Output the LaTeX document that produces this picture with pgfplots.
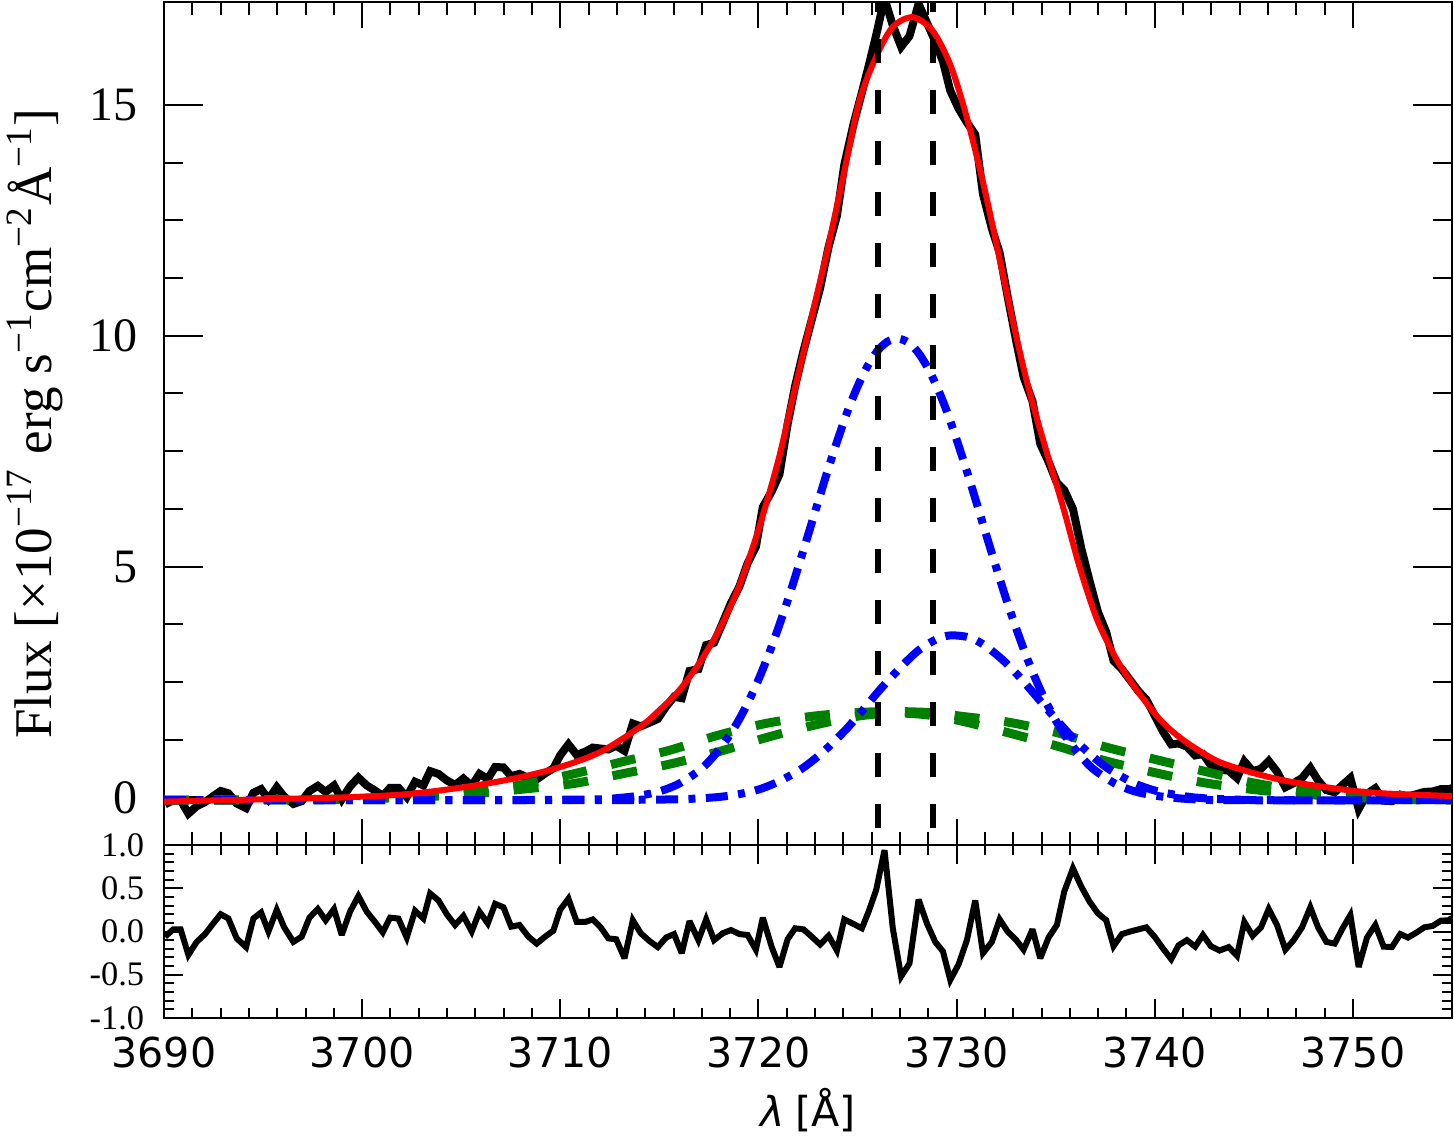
\documentclass[border=0pt]{standalone}
\usepackage{fontspec}
\setmainfont{Liberation Serif}
\newfontfamily\dejavu{DejaVu Sans}
\usepackage{pgfplots}
\pgfplotsset{compat=1.18}
\definecolor{dgreen}{RGB}{0,128,0}
\begin{document}
\begin{tikzpicture}
\pgfplotsset{
  every axis/.append style={scale only axis, width=322pt, xmin=3690, xmax=3755,
    axis line style={line width=0.5pt}, every tick/.style={line width=0.5pt, black}},
}
% ---------------- residual panel ----------------
\begin{axis}[name=bot, at={(0,0)}, anchor=south west, height=43.25pt,
  ymin=-1, ymax=1,
  xtick={3690,3700,3710,3720,3730,3740,3750},
  xticklabels={3690,3700,3710,3720,3730,3740,3750},
  minor x tick num=6,
  ytick={-1,-0.5,0,0.5,1}, yticklabels={-1.0,-0.5,0.0,0.5,1.0},
  minor y tick num=4,
  major tick length=4.75pt, minor tick length=2.5pt,
  xticklabel style={font=\dejavu\fontsize{10.3}{10.3}\selectfont, anchor=north, inner sep=0pt, yshift=-4.5pt},
  yticklabel style={font=\fontsize{8.6}{8.6}\selectfont, anchor=east, inner sep=0pt, xshift=-4.75pt},
  xlabel={{\dejavu\itshape λ} {\dejavu [Å]}},
  xlabel style={font=\fontsize{10.3}{10.3}\selectfont, at={([yshift=-27.2pt]axis description cs:0.5,0)}, anchor=base},
]
\addplot[black, line width=1.5pt, line join=miter, miter limit=3] coordinates {
(3690.05,-0.06) (3690.47,0.025) (3690.84,0.025) (3691.23,-0.27) (3691.65,-0.12) (3692.07,-0.03) (3692.49,0.094) (3692.86,0.20) (3693.25,0.15) (3693.67,-0.08) (3694.14,-0.18) (3694.51,0.15) (3694.90,0.22) (3695.27,0.0) (3695.69,0.25) (3696.06,0.05) (3696.53,-0.12) (3696.95,-0.06) (3697.34,0.16) (3697.76,0.26) (3698.16,0.13) (3698.58,0.26) (3698.97,-0.04) (3699.39,0.23) (3699.81,0.41) (3700.23,0.23) (3700.65,0.11) (3701.04,-0.01) (3701.41,0.16) (3701.83,0.15) (3702.25,-0.07) (3702.67,0.24) (3703.09,0.15) (3703.43,0.44) (3703.85,0.36) (3704.27,0.20) (3704.69,0.075) (3705.11,0.18) (3705.53,0.0) (3705.92,0.23) (3706.34,0.094) (3706.71,0.32) (3707.13,0.28) (3707.52,0.056) (3707.94,0.075) (3708.39,-0.06) (3708.81,-0.14) (3709.23,-0.06) (3709.65,0.01) (3709.99,0.25) (3710.41,0.38) (3710.83,0.11) (3711.25,0.11) (3711.64,0.14) (3712.01,0.056)
(3712.43,-0.08) (3712.82,-0.09) (3713.24,-0.31) (3713.66,0.13) (3714.06,-0.02) (3714.50,-0.11) (3714.92,-0.18) (3715.34,-0.07) (3715.74,-0.03) (3716.13,-0.25) (3716.52,0.12) (3716.97,-0.10) (3717.36,0.14) (3717.76,-0.10) (3718.20,-0.02) (3718.61,0.017) (3719.04,-0.03) (3719.45,-0.04) (3719.87,-0.21) (3720.22,0.16) (3720.67,-0.18) (3721.06,-0.41) (3721.47,-0.09) (3721.85,0.037) (3722.27,0.025) (3722.69,-0.06) (3723.11,-0.15) (3723.54,-0.05) (3723.96,-0.22) (3724.33,0.14) (3724.80,0.087) (3725.22,0.037) (3725.56,0.23) (3725.94,0.48) (3726.36,0.94) (3726.78,0.037) (3727.20,-0.52) (3727.62,-0.37) (3728.08,0.37) (3728.50,0.094) (3728.92,-0.12) (3729.31,-0.23) (3729.68,-0.56) (3730.10,-0.38) (3730.52,-0.10) (3730.94,0.36) (3731.33,-0.25) (3731.78,-0.12) (3732.17,0.14) (3732.57,0.0) (3733.01,-0.10) (3733.38,-0.21)
(3733.83,0.025) (3734.22,-0.31) (3734.64,-0.07) (3735.06,0.075) (3735.43,0.46) (3735.87,0.73) (3736.29,0.52) (3736.71,0.345) (3737.13,0.21) (3737.55,0.13) (3737.92,-0.17) (3738.34,-0.03) (3738.76,0.0) (3739.18,0.025) (3739.57,0.048) (3739.99,-0.06) (3740.41,-0.195) (3740.83,-0.32) (3741.20,-0.16) (3741.62,-0.10) (3742.04,-0.175) (3742.43,-0.04) (3742.83,-0.17) (3743.27,-0.22) (3743.73,-0.18) (3744.15,-0.28) (3744.52,0.11) (3744.94,-0.05) (3745.36,0.048) (3745.75,0.26) (3746.17,0.075) (3746.59,-0.21) (3747.01,-0.10) (3747.43,0.048) (3747.85,0.28) (3748.24,0.048) (3748.66,-0.12) (3749.08,-0.14) (3749.45,0.025) (3749.87,0.19) (3750.29,-0.41) (3750.71,-0.07) (3751.13,0.075) (3751.55,-0.175) (3751.97,-0.18) (3752.39,-0.03) (3752.78,-0.07) (3753.20,-0.013) (3753.60,0.048) (3754.02,0.064) (3754.44,0.125) (3754.83,0.13) (3755.0,0.16)
};
\end{axis}
% ---------------- spectrum panel ----------------
\begin{axis}[name=top, at={(0,43.25pt)}, anchor=south west, height=210.75pt,
  ymin=-1.03, ymax=17.23,
  xtick={3690,3700,3710,3720,3730,3740,3750}, xticklabels={},
  minor x tick num=6,
  ytick={0,5,10,15}, yticklabels={0,5,10,15},
  minor y tick num=3,
  major tick length=6.5pt, minor tick length=3.25pt,
  xtick style={/pgfplots/major tick length=6.5pt, /pgfplots/minor tick length=3.25pt},
  ytick style={/pgfplots/major tick length=9.75pt, /pgfplots/minor tick length=4.75pt},
  yticklabel style={font=\fontsize{12}{12}\selectfont, anchor=east, inner sep=0pt, xshift=-6.5pt},
  ylabel={Flux [×10\textsuperscript{−17} erg s\textsuperscript{−1}cm\textsuperscript{−2}Å\textsuperscript{−1}]},
  ylabel style={font=\fontsize{13.25}{13.25}\selectfont, at={([xshift=-28pt]axis description cs:0,0.5)}, anchor=base},
]
% observed spectrum
\addplot[black, line width=2pt, line join=miter, miter limit=3] coordinates {
(3690.05,-0.15) (3690.47,-0.06) (3690.84,-0.06) (3691.23,-0.35) (3691.65,-0.19) (3692.07,-0.10) (3692.49,0.03) (3692.86,0.14) (3693.25,0.09) (3693.67,-0.13) (3694.14,-0.23) (3694.51,0.10) (3694.90,0.18) (3695.27,-0.04) (3695.69,0.22) (3696.06,0.02) (3696.53,-0.14) (3696.95,-0.08) (3697.34,0.14) (3697.76,0.25) (3698.16,0.12) (3698.58,0.26) (3698.97,-0.04) (3699.39,0.24) (3699.81,0.43) (3700.23,0.26) (3700.65,0.15) (3701.04,0.03) (3701.41,0.21) (3701.83,0.21) (3702.25,0.01) (3702.67,0.34) (3703.09,0.26) (3703.43,0.57) (3703.85,0.51) (3704.27,0.37) (3704.69,0.27) (3705.11,0.41) (3705.53,0.25) (3705.92,0.51) (3706.34,0.40) (3706.71,0.66) (3707.13,0.65) (3707.52,0.46) (3707.94,0.51) (3708.39,0.42) (3708.81,0.39) (3709.23,0.52) (3709.65,0.63) (3709.99,0.91) (3710.41,1.15) (3710.83,0.92) (3711.25,0.99) (3711.64,1.08) (3712.01,1.06)
(3712.43,1.04) (3712.82,1.12) (3713.24,1.01) (3713.66,1.60) (3714.06,1.54) (3714.50,1.62) (3714.92,1.70) (3715.34,1.97) (3715.74,2.18) (3716.13,2.15) (3716.52,2.74) (3716.97,2.78) (3717.36,3.30) (3717.76,3.35) (3718.20,3.79) (3718.61,4.21) (3719.04,4.57) (3719.45,5.07) (3719.87,5.43) (3720.22,6.29) (3720.67,6.63) (3721.06,7.00) (3721.47,8.08) (3721.85,8.91) (3722.27,9.67) (3722.69,10.35) (3723.11,11.03) (3723.54,11.93) (3723.96,12.60) (3724.33,13.70) (3724.80,14.59) (3725.22,15.27) (3725.56,15.84) (3725.94,16.51) (3726.36,17.31) (3726.78,16.72) (3727.20,16.26) (3727.62,16.49) (3728.08,17.19) (3728.50,16.78) (3728.92,16.38) (3729.31,15.94) (3729.68,15.31) (3730.10,14.92) (3730.52,14.62) (3730.94,14.36) (3731.33,13.07) (3731.78,12.32) (3732.17,11.80) (3732.57,10.86) (3733.01,9.88) (3733.38,9.11)
(3733.83,8.58) (3734.22,7.66) (3734.64,7.27) (3735.06,6.82) (3735.43,6.66) (3735.87,6.25) (3736.29,5.40) (3736.71,4.69) (3737.13,4.02) (3737.55,3.58) (3737.92,2.96) (3738.34,2.78) (3738.76,2.54) (3739.18,2.30) (3739.57,2.12) (3739.99,1.78) (3740.41,1.43) (3740.83,1.15) (3741.20,1.17) (3741.62,1.10) (3742.04,0.91) (3742.43,0.94) (3742.83,0.70) (3743.27,0.60) (3743.73,0.58) (3744.15,0.42) (3744.52,0.78) (3744.94,0.57) (3745.36,0.62) (3745.75,0.79) (3746.17,0.56) (3746.59,0.22) (3747.01,0.31) (3747.43,0.42) (3747.85,0.64) (3748.24,0.37) (3748.66,0.16) (3749.08,0.11) (3749.45,0.26) (3749.87,0.42) (3750.29,-0.25) (3750.71,0.08) (3751.13,0.20) (3751.55,-0.07) (3751.97,-0.08) (3752.39,0.06) (3752.78,0.02) (3753.20,0.07) (3753.60,0.12) (3754.02,0.13) (3754.44,0.18) (3754.83,0.18) (3755.0,0.20)
};
% broad components (green dashed)
\addplot[dgreen, line width=2.25pt, smooth, dash pattern=on 6.25pt off 6.25pt] coordinates {
(3690,-0.06) (3698,-0.04) (3700,-0.02) (3703.3,0.04) (3705.7,0.12) (3708.1,0.28) (3710.66,0.51) (3713.1,0.77) (3715.5,1.02) (3717.9,1.34) (3720.34,1.60) (3722.76,1.76) (3725,1.84) (3727,1.86) (3729,1.83) (3730.2,1.76) (3732.62,1.63) (3735.1,1.40) (3737.45,1.10) (3739.87,0.84) (3742.33,0.585) (3744.8,0.33) (3747.2,0.16) (3749.7,0.05) (3752,-0.02) (3755,-0.05)
};
\addplot[dgreen, line width=2.25pt, smooth, dash pattern=on 6.25pt off 6.25pt] coordinates {
(3690,-0.06) (3698,-0.05) (3700,-0.03) (3703.3,0.02) (3705.7,0.08) (3708.1,0.18) (3710.66,0.30) (3713.1,0.51) (3715.5,0.72) (3717.9,0.98) (3720.34,1.29) (3722.76,1.56) (3725,1.76) (3726.8,1.83) (3728.5,1.79) (3730.2,1.66) (3732.62,1.40) (3735.1,1.11) (3737.45,0.80) (3739.87,0.55) (3742.33,0.33) (3744.8,0.18) (3747.2,0.08) (3749.7,0.01) (3752,-0.04) (3755,-0.06)
};
% narrow components (blue dash-dot)
\addplot[blue, line width=2pt, smooth, dash pattern=on 5.5pt off 2.6pt on 1.75pt off 2.6pt] coordinates {
(3690,-0.06) (3705,-0.06) (3710,-0.05) (3712,-0.04) (3713,-0.01) (3714,0.04) (3715,0.13) (3716,0.30) (3717,0.58) (3717.5,0.78) (3718,1.03) (3718.5,1.32) (3719,1.67) (3719.5,2.08) (3720,2.55) (3720.5,3.08) (3721,3.67) (3721.5,4.30) (3722,4.98) (3722.5,5.68) (3723,6.39) (3723.5,7.09) (3724,7.75) (3724.5,8.37) (3725,8.90) (3725.5,9.34) (3726,9.67) (3726.5,9.87) (3727,9.94) (3727.5,9.87) (3728,9.67) (3728.5,9.34) (3729,8.90) (3729.5,8.37) (3730,7.75) (3730.5,7.09) (3731,6.39) (3731.5,5.68) (3732,4.98) (3732.5,4.30) (3733,3.67) (3733.5,3.08) (3734,2.55) (3734.5,2.08) (3735,1.67) (3735.5,1.32) (3736,1.03) (3736.5,0.78) (3737,0.58) (3738,0.30) (3739,0.13) (3740,0.04) (3741,-0.01) (3742,-0.04) (3744,-0.06) (3755,-0.06)
};
\addplot[blue, line width=2pt, smooth, dash pattern=on 5.5pt off 2.6pt on 1.75pt off 2.6pt] coordinates {
(3690,-0.06) (3712,-0.06) (3714,-0.05) (3716,-0.04) (3717,-0.02) (3718,0.01) (3719,0.07) (3720,0.17) (3721,0.34) (3722,0.57) (3722.5,0.72) (3723,0.89) (3723.5,1.08) (3724,1.29) (3724.5,1.51) (3725,1.76) (3725.5,2.01) (3726,2.27) (3726.5,2.51) (3727,2.74) (3727.5,2.96) (3728,3.16) (3728.5,3.31) (3729,3.43) (3729.5,3.50) (3729.9,3.51) (3730.5,3.48) (3731,3.40) (3731.5,3.27) (3732,3.10) (3732.5,2.91) (3733,2.69) (3733.5,2.45) (3734,2.20) (3734.5,1.95) (3735,1.70) (3735.5,1.46) (3736,1.23) (3736.5,1.03) (3737,0.84) (3737.5,0.67) (3738,0.53) (3739,0.30) (3740,0.15) (3741,0.06) (3742,0.0) (3743,-0.03) (3744,-0.045) (3746,-0.06) (3755,-0.06)
};
% total fit (red)
\addplot[red, line width=1.5pt, smooth] coordinates {
(3690,-0.09) (3693,-0.06) (3696,-0.03) (3699,0.0) (3701.9,0.06) (3703.9,0.15) (3706,0.28) (3708,0.44) (3710,0.66) (3712,0.98) (3714,1.52) (3715,1.89) (3716,2.32) (3717,2.90) (3718,3.62) (3719,4.55) (3720,5.8) (3721,7.3) (3721.7,8.6) (3722.9,10.8) (3723.5,11.9) (3724.3,13.5) (3725.1,15.1) (3726,16.1) (3726.8,16.7) (3727.8,16.9) (3728.8,16.6) (3729.7,15.85) (3730.5,14.75) (3731.4,13.2) (3732.2,11.6) (3733,10.0) (3733.7,8.75) (3734.6,7.4) (3735.4,6.25) (3736.2,5.0) (3737.1,3.84) (3738.1,2.97) (3739.1,2.32) (3740.3,1.67) (3741.45,1.24) (3743.1,0.80) (3744.8,0.55) (3746.5,0.37) (3748.2,0.25) (3749.9,0.15) (3751.5,0.09) (3753.2,0.06) (3755,0.03)
};
% rest-frame doublet wavelengths
\addplot[black, line width=1.5pt, dash pattern=on 6pt off 6.75pt] coordinates {(3726.03,-0.67) (3726.03,17.6)};
\addplot[black, line width=1.5pt, dash pattern=on 6pt off 6.75pt] coordinates {(3728.82,-0.67) (3728.82,17.6)};
\end{axis}
\pgfresetboundingbox
\path[use as bounding box] (-41pt,-29.25pt) rectangle (322.5pt,254.5pt);
\end{tikzpicture}
\end{document}
